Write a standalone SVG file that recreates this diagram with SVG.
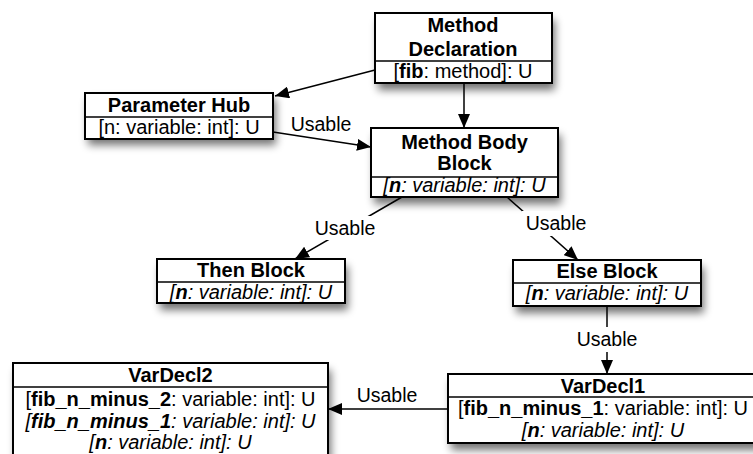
<svg xmlns="http://www.w3.org/2000/svg" width="753" height="454" viewBox="0 0 753 454">
  <style>
    text { font-family: "Liberation Sans", Arial, Helvetica, sans-serif; font-size: 20px; fill: #000; }
    .t { text-anchor: middle; }
    .b { font-weight: bold; }
    .i { font-style: italic; }
    .box { fill: #fff; stroke: #000; stroke-width: 2; }
    .shadow { fill: #000; opacity: 0.55; filter: url(#blur); }
    .div { stroke: #000; stroke-width: 1.5; }
    .edge { stroke: #000; stroke-width: 1.5; fill: none; marker-end: url(#arrow); }
    .lbl { font-size: 19.5px; text-anchor: middle; }
    .lblbg { fill: #fff; }
  </style>
  <defs>
    <filter id="blur" x="-20%" y="-40%" width="140%" height="180%">
      <feGaussianBlur stdDeviation="4"/>
    </filter>
    <marker id="arrow" markerUnits="userSpaceOnUse" markerWidth="14" markerHeight="12" refX="14" refY="6" orient="auto">
      <path d="M0,0 L14,6 L0,12 z" fill="#000"/>
    </marker>
  </defs>

  <rect width="753" height="454" fill="#fff"/>

  <!-- drop shadows -->
  <g id="shadows">
    <rect class="shadow" x="378" y="20" width="177" height="70"/>
    <rect class="shadow" x="88" y="99" width="188" height="46"/>
    <rect class="shadow" x="374" y="135" width="187" height="69"/>
    <rect class="shadow" x="160" y="266" width="188" height="44"/>
    <rect class="shadow" x="516" y="267" width="188" height="46"/>
    <rect class="shadow" x="451" y="381" width="310" height="69"/>
    <rect class="shadow" x="16" y="370" width="315" height="100"/>
  </g>

  <!-- connectors -->
  <g id="connectors">
    <line class="edge" x1="375" y1="70" x2="275" y2="96"/>
    <line class="edge" x1="464" y1="83" x2="464" y2="128"/>
    <line class="edge" x1="273" y1="132" x2="371" y2="147"/>
    <line class="edge" x1="402" y1="197" x2="295" y2="259"/>
    <line class="edge" x1="507" y1="197" x2="578" y2="260"/>
    <line class="edge" x1="607" y1="306" x2="607" y2="374"/>
    <line class="edge" x1="448" y1="409" x2="328" y2="409"/>

    <text class="lbl" x="321" y="131">Usable</text>
    <rect class="lblbg" x="313" y="216" width="64" height="24"/>
    <text class="lbl" x="345" y="235">Usable</text>
    <rect class="lblbg" x="522" y="211" width="68" height="25"/>
    <text class="lbl" x="556" y="230">Usable</text>
    <rect class="lblbg" x="574" y="327" width="66" height="25"/>
    <text class="lbl" x="607" y="346">Usable</text>
    <text class="lbl" x="387" y="402">Usable</text>
  </g>

  <!-- Method Declaration -->
  <g id="method-declaration">
    <rect class="box" x="375" y="13" width="177" height="70"/>
    <line class="div" x1="375" y1="61" x2="552" y2="61"/>
    <text class="t b" x="463" y="32">Method</text>
    <text class="t b" x="463" y="56">Declaration</text>
    <text class="t" x="463" y="78">[<tspan class="b">fib</tspan>: method]: U</text>
  </g>

  <!-- Parameter Hub -->
  <g id="parameter-hub">
    <rect class="box" x="85" y="93" width="188" height="46"/>
    <line class="div" x1="85" y1="117" x2="273" y2="117"/>
    <text class="t b" x="179" y="112">Parameter Hub</text>
    <text class="t" x="179" y="134">[n: variable: int]: U</text>
  </g>

  <!-- Method Body Block -->
  <g id="method-body-block">
    <rect class="box" x="371" y="128" width="187" height="69"/>
    <line class="div" x1="371" y1="177" x2="558" y2="177"/>
    <text class="t b" x="464.5" y="149">Method Body</text>
    <text class="t b" x="464.5" y="170">Block</text>
    <text class="t i" x="464.5" y="192">[<tspan class="b">n</tspan>: variable: int]: U</text>
  </g>

  <!-- Then Block -->
  <g id="then-block">
    <rect class="box" x="157" y="259" width="188" height="44"/>
    <line class="div" x1="157" y1="282" x2="345" y2="282"/>
    <text class="t b" x="251" y="277">Then Block</text>
    <text class="t i" x="251" y="299">[<tspan class="b">n</tspan>: variable: int]: U</text>
  </g>

  <!-- Else Block -->
  <g id="else-block">
    <rect class="box" x="513" y="260" width="188" height="46"/>
    <line class="div" x1="513" y1="283" x2="701" y2="283"/>
    <text class="t b" x="607" y="278">Else Block</text>
    <text class="t i" x="607" y="300">[<tspan class="b">n</tspan>: variable: int]: U</text>
  </g>

  <!-- VarDecl1 -->
  <g id="vardecl1">
    <rect class="box" x="448" y="374" width="310" height="69"/>
    <line class="div" x1="448" y1="397" x2="758" y2="397"/>
    <text class="t b" x="603" y="393">VarDecl1</text>
    <text class="t" x="603" y="415">[<tspan class="b">fib_n_minus_1</tspan>: variable: int]: U</text>
    <text class="t i" x="603" y="437">[<tspan class="b">n</tspan>: variable: int]: U</text>
  </g>

  <!-- VarDecl2 -->
  <g id="vardecl2">
    <rect class="box" x="13" y="363" width="315" height="100"/>
    <line class="div" x1="13" y1="387" x2="328" y2="387"/>
    <text class="t b" x="170.5" y="382">VarDecl2</text>
    <text class="t" x="170.5" y="406">[<tspan class="b">fib_n_minus_2</tspan>: variable: int]: U</text>
    <text class="t i" x="170.5" y="428">[<tspan class="b">fib_n_minus_1</tspan>: variable: int]: U</text>
    <text class="t i" x="170.5" y="449">[<tspan class="b">n</tspan>: variable: int]: U</text>
  </g>
</svg>
